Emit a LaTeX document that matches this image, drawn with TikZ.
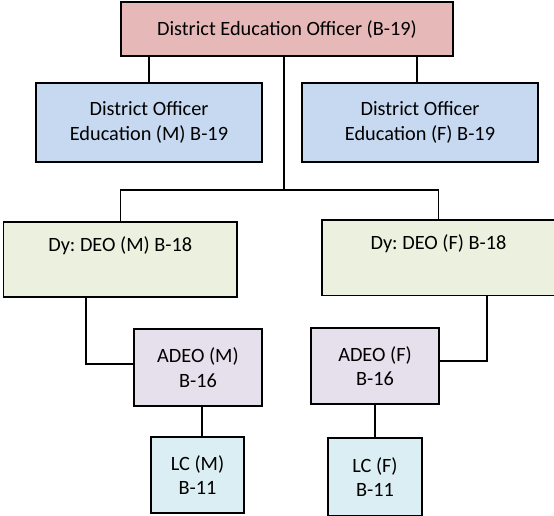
\documentclass[tikz,border=0pt]{standalone}
\usepackage{fontspec}
\setmainfont{Carlito}
\frenchspacing
\definecolor{pinkbox}{HTML}{E6B9B8}
\definecolor{bluebox}{HTML}{C6D9F1}
\definecolor{greenbox}{HTML}{EBF1DE}
\definecolor{purplebox}{HTML}{E5E0EC}
\definecolor{cyanbox}{HTML}{DBEEF4}
\tikzset{
  box/.style={draw=black, line width=1.3pt, rectangle, align=center, inner sep=0pt,
    font=\fontsize{20.3}{24.5}\selectfont},
  conn/.style={draw=black, line width=1.2pt}
}
\begin{document}
\begin{tikzpicture}[x=1pt,y=-1pt]
\useasboundingbox (0,0) rectangle (554,515);
\clip (0,0) rectangle (554,515);
\node[box, fill=pinkbox, minimum width=332, minimum height=54] (top) at (287,29) {District Education Officer (B-19)};
\node[box, fill=bluebox, minimum width=226, minimum height=79] (blueL) at (149,122.5) {District Officer\\Education (M) B-19};
\node[box, fill=bluebox, minimum width=236, minimum height=79] (blueR) at (420,122.5) {District Officer\\Education (F) B-19};
\node[box, fill=greenbox, minimum width=233.5, minimum height=75] (greenL) at (120.25,259.5) {Dy: DEO (M) B-18\\[6pt]\mbox{}};
\node[box, fill=greenbox, minimum width=233, minimum height=75.5] (greenR) at (438.5,257.75) {Dy: DEO (F) B-18\\[6pt]\mbox{}};
\node[box, fill=purplebox, minimum width=128, minimum height=77] (adeoM) at (198,367.5) {ADEO (M)\\B-16};
\node[box, fill=purplebox, minimum width=128, minimum height=76] (adeoF) at (375,366) {ADEO (F)\\B-16};
\node[box, fill=cyanbox, minimum width=93, minimum height=76] (lcM) at (197.5,475) {LC (M)\\B-11};
\node[box, fill=cyanbox, minimum width=94, minimum height=78] (lcF) at (375,477) {LC (F)\\B-11};
\coordinate (bar) at (284,190);
\coordinate (lx) at (86,0);
\coordinate (rx) at (487,0);
\coordinate (tr) at (417,0);
\draw[conn] (top.south -| blueL.north) -- (blueL.north);
\draw[conn] (top.south -| tr) -- (blueR.north -| tr);
\draw[conn] (top.south -| bar) -- (bar);
\draw[conn] (greenL.north) |- (bar) -| (greenR.north);
\draw[conn] (greenL.south -| lx) |- ([yshift=3.5]adeoM.west);
\draw[conn] (greenR.south -| rx) |- ([yshift=5]adeoF.east);
\draw[conn] ([xshift=4]adeoM.south) -- ([xshift=4]adeoM.south |- lcM.north);
\draw[conn] (adeoF.south) -- (adeoF.south |- lcF.north);
\end{tikzpicture}
\end{document}
